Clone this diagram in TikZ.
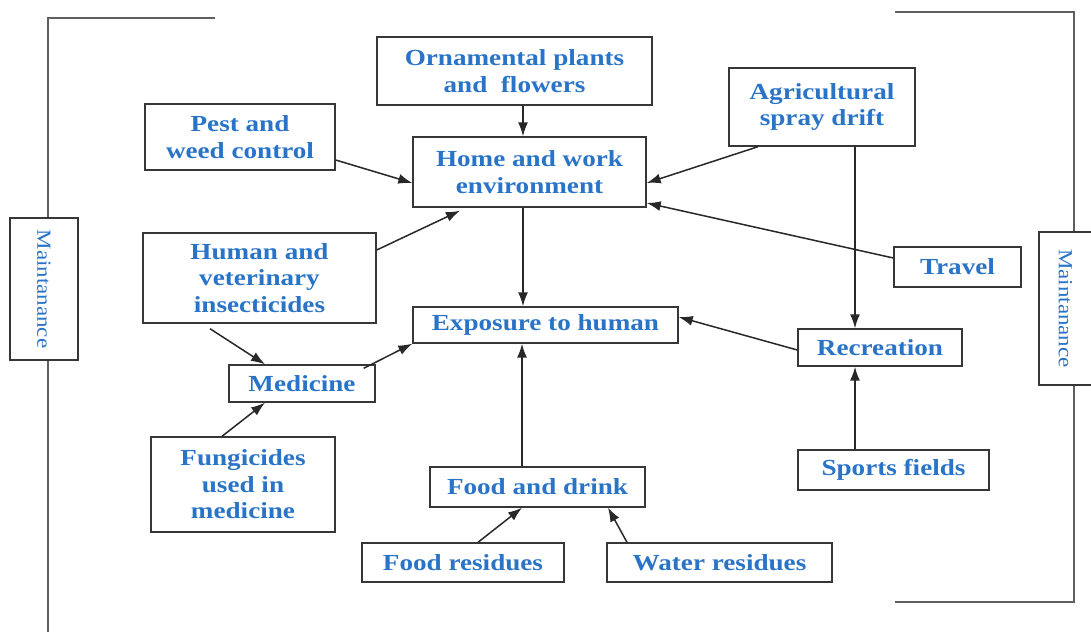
\documentclass[tikz,border=0pt]{standalone}
\usepackage{fontspec}
\setmainfont{Liberation Serif}
\newfontfamily\bxfont[FakeStretch=1.18]{Liberation Serif}
\newfontfamily\mtfont[FakeStretch=1.15]{Liberation Serif}
\usetikzlibrary{arrows.meta,calc}
\definecolor{txtc}{RGB}{42,116,200}
\definecolor{boxc}{RGB}{55,55,55}
\definecolor{linec}{RGB}{40,40,40}
\definecolor{brc}{RGB}{95,95,95}
\tikzset{
  bx/.style={draw=boxc, line width=1.4pt, fill=white, text=txtc, align=center,
    inner sep=0pt, font=\bxfont\bfseries\fontsize{23}{26.5}\selectfont},
  mt/.style={draw=boxc, line width=1.3pt, fill=white, text=txtc, inner sep=0pt,
    font=\mtfont\fontsize{20}{24}\selectfont},
  arr/.style={draw=linec, line width=1.5pt, -{Latex[length=14pt,width=10pt]}},
  brk/.style={draw=brc, line width=1.7pt}
}
\begin{document}
\begin{tikzpicture}[x=1pt,y=-1pt]
\fill[white] (0,0) rectangle (1091,632);
\useasboundingbox (0,0) rectangle (1091,632);
% brackets
\draw[brk] (215,18) -- (48,18) -- (48,632);
\draw[brk] (895,12) -- (1074,12) -- (1074,602) -- (895,602);
% maintenance boxes
\node[mt, minimum width=68pt, minimum height=142pt] (mainL) at (44,289) {};
\node[text=txtc, font=\mtfont\fontsize{20}{24}\selectfont, rotate=-90] (mainLt) at (mainL.center) {Maintanance};
\node[mt, minimum width=53pt, minimum height=153pt] (mainR) at (1065.5,308.5) {};
\node[text=txtc, font=\mtfont\fontsize{20}{24}\selectfont, rotate=-90] (mainRt) at (mainR.center) {Maintanance};
% boxes
\node[bx, minimum width=275pt, minimum height=68pt] (orn) at (514.5,71) {Ornamental plants\\and\ \ flowers};
\node[bx, minimum width=190pt, minimum height=66pt] (pest) at (240,137) {Pest and\\weed control};
\node[bx, minimum width=233pt, minimum height=70pt] (home) at (529.5,172) {Home and work\\environment};
\node[bx, minimum width=186pt, minimum height=78pt] (agri) at (822,107) {Agricultural\\spray drift};
\node[bx, minimum width=233pt, minimum height=90pt] (hum) at (259.5,278) {Human and\\veterinary\\insecticides};
\node[bx, minimum width=127pt, minimum height=40pt] (travel) at (957.5,267) {Travel};
\node[bx, minimum width=265pt, minimum height=36pt] (expo) at (545.5,325) {Exposure to human};
\node[bx, minimum width=164pt, minimum height=37pt] (recr) at (880,347.5) {Recreation};
\node[bx, minimum width=146pt, minimum height=37pt] (med) at (302,383.5) {Medicine};
\node[bx, minimum width=184pt, minimum height=95pt] (fung) at (243,484.5) {Fungicides\\used in\\medicine};
\node[bx, minimum width=215pt, minimum height=40pt] (food) at (537.5,487) {Food and drink};
\node[bx, minimum width=191pt, minimum height=40pt] (sports) at (893.5,470) {Sports fields};
\node[bx, minimum width=202pt, minimum height=39pt] (fres) at (463,562.5) {Food residues};
\node[bx, minimum width=225pt, minimum height=39pt] (wres) at (719.5,562.5) {Water residues};
% helper coordinates
\coordinate (hn) at ([xshift=-6.5pt]home.north);
\coordinate (hs) at ([xshift=-6.5pt]home.south);
\coordinate (ax) at ([xshift=33pt]agri.south);
\coordinate (fn) at ([xshift=-15.5pt]food.north);
% connectors
\draw[arr] (orn.south -| hn) -- (hn);
\draw[arr] (hs) -- (hs |- expo.north);
\draw[arr] ([yshift=-23pt]pest.east) -- ([yshift=-11pt]home.west);
\draw[arr] ([yshift=28pt]hum.east) -- ([xshift=-69.5pt,yshift=-3pt]home.south);
\draw[arr] ([xshift=-64pt]agri.south) -- ([yshift=-11pt]home.east);
\draw[arr] ([yshift=9pt]travel.west) -- ([yshift=-31pt]home.east);
\draw[arr] (ax) -- (ax |- recr.north);
\draw[arr] (sports.north -| ax) -- (recr.south -| ax);
\draw[arr] ([yshift=-2.5pt]recr.west) -- ([yshift=8pt]expo.east);
\draw[arr] (fn) -- (fn |- expo.south);
\draw[arr] ([xshift=15pt]fres.north) -- ([xshift=-15.5pt]food.south);
\draw[arr] ([xshift=-92.5pt]wres.north) -- ([xshift=70.5pt]food.south);
\draw[arr] ([xshift=-12pt,yshift=-4pt]med.north east) -- (expo.south west);
\draw[arr] ([xshift=-49.5pt,yshift=-5pt]hum.south) -- ([xshift=-37pt]med.north);
\draw[arr] ([xshift=-21pt]fung.north) -- ([xshift=-37pt]med.south);
\end{tikzpicture}
\end{document}
